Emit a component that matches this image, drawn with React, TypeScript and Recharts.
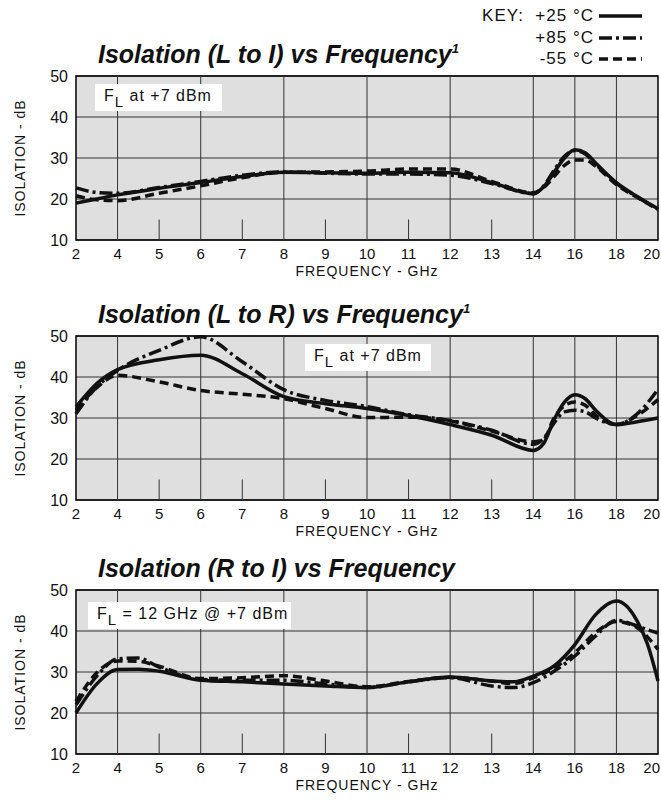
import { LineChart, Line, XAxis, YAxis, CartesianGrid, ReferenceLine, ReferenceArea } from 'recharts';

// x axis is not linear: 2-4 and 14-20 GHz are squeezed, each label gets one slot
const TICK_LABELS = ['2', '4', '5', '6', '7', '8', '9', '10', '11', '12', '13', '14', '16', '18', '20'];
const MAJOR_GRID = [4, 6, 8, 10, 12, 14, 16, 18];
const MINOR_MARKS = [5, 7, 9, 11, 13];
const Y_TICKS = [10, 20, 30, 40, 50];

// Isolation (L to I)
const LI_FREQ = [2, 3, 4, 5, 6, 7, 8, 9, 10, 11, 12, 13, 14, 14.5, 15, 15.5, 16, 16.5, 17, 18, 19, 20];
const LI_P25 = [19, 20, 21, 22.6, 24, 25.5, 26.5, 26.4, 26.3, 26.5, 26.4, 24, 21.3, 23, 26.5, 30, 32, 31.3, 28.8, 24, 20.6, 17.6];
const LI_P85 = [22.7, 21.6, 21.4, 22.8, 24.3, 25.8, 26.6, 26.3, 26.1, 26.1, 25.8, 23.8, 21.3, 23.2, 27, 30.4, 31.8, 31, 28.5, 23.8, 20.5, 17.5];
const LI_M55 = [20.8, 19.8, 19.6, 21.4, 23.2, 25.2, 26.5, 26.6, 26.8, 27.3, 27.3, 24.3, 21.5, 22.8, 25.5, 28.2, 29.5, 29.5, 28, 23.5, 20.4, 17.5];

// Isolation (L to R)
const LR_FREQ = [2, 3, 4, 5, 6, 7, 8, 9, 10, 11, 12, 13, 14, 14.5, 15, 15.5, 16, 16.5, 17, 18, 19, 20];
const LR_P25 = [32.7, 38.4, 41.8, 44.2, 45.3, 40.8, 35.2, 33.5, 32.3, 30.6, 28.4, 25.8, 22.1, 23.8, 29.6, 33.9, 35.7, 34.7, 31.9, 28.4, 29.1, 30];
const LR_P85 = [31, 37.6, 41.6, 46.5, 49.8, 43.7, 36.9, 34.3, 32.8, 30.8, 29.4, 27, 23.6, 25, 28.8, 31.5, 31.9, 31.5, 30, 28.4, 31, 37];
const LR_M55 = [31.9, 37.4, 40.4, 38.8, 36.7, 35.8, 34.7, 32.3, 30.1, 30.2, 29.3, 26.8, 24.2, 24.8, 30, 33, 33.9, 33.1, 30.7, 28.4, 30.6, 34.5];

// Isolation (R to I)
const RI_FREQ = [2, 3, 4, 4.5, 5, 6, 7, 8, 9, 10, 11, 12, 13, 13.5, 14, 15, 16, 17, 18, 19, 19.5, 20];
const RI_P25 = [20, 27.1, 30.6, 30.7, 30.2, 28, 27.6, 27.1, 26.6, 26.2, 27.6, 28.8, 27.8, 27.6, 29, 31.5, 36.7, 44, 47.3, 42.4, 36.7, 27.8];
const RI_P85 = [22, 29, 33.2, 33.4, 31.2, 28.2, 28, 28, 27.1, 26.2, 27.6, 28.6, 26.6, 26.2, 27.4, 30.2, 33.9, 38.8, 42.6, 41.2, 40.3, 39.5];
const RI_M55 = [22.8, 29.8, 32.7, 32.6, 31.4, 28.4, 28.6, 29.1, 27.8, 26.4, 27.7, 28.7, 27.8, 27.2, 28.6, 31, 34.7, 39.6, 42.3, 40.8, 38.5, 35.5];

const FONT = '"Liberation Sans", Arial, Helvetica, sans-serif';
const INK = '#111';

const DASH_85 = '13 4 3 4';
const DASH_55 = '9 5';
const LINE_W = 3.5;

// GHz -> slot on the category-like axis
function toSlot(f: number) {
  if (f <= 4) return (f - 2) / 2;
  if (f <= 14) return f - 3;
  return 11 + (f - 14) / 2;
}

function buildRows(freqs: number[], a: number[], b: number[], c: number[]) {
  return freqs.map((f, i) => ({ x: toSlot(f), p25: a[i], p85: b[i], m55: c[i] }));
}

const PLOT_H = 164;
const TOP_M = 10;
const X_AXIS_H = 40;

interface PanelProps {
  top: number;
  title: string;
  sup?: string;
  note: React.ReactNode;
  noteBox: { left: number; top: number; width: number; height: number };
  rows: { x: number; p25: number; p85: number; m55: number }[];
}

function YLabel(props: any) {
  const vb = props.viewBox;
  const cy = vb.y + vb.height / 2;
  return (
    <text x={20} y={cy} transform={`rotate(-90 20 ${cy})`} textAnchor="middle" dominantBaseline="central"
      fill={INK} fontSize={14} fontFamily={FONT} letterSpacing={1}>
      ISOLATION - dB
    </text>
  );
}

function XLabel(props: any) {
  const vb = props.viewBox;
  return (
    <text x={vb.x + vb.width / 2} y={vb.y + 31} textAnchor="middle" dominantBaseline="central"
      fill={INK} fontSize={14} fontFamily={FONT} letterSpacing={1}>
      FREQUENCY - GHz
    </text>
  );
}

// last label sits on the right border, keep it inside the picture
function XTick(props: any) {
  const { x, y, payload } = props;
  const last = payload.value === TICK_LABELS.length - 1;
  return (
    <text x={last ? 660 : x} y={y + 5} textAnchor={last ? 'end' : 'middle'} dominantBaseline="central"
      fill={INK} fontSize={15} fontFamily={FONT}>
      {TICK_LABELS[payload.value]}
    </text>
  );
}

function Panel({ top, title, sup, note, noteBox, rows }: PanelProps) {
  return (
    <>
      <div style={{ position: 'absolute', left: 98, top: top - 36, height: 28, lineHeight: '28px', fontFamily: FONT,
        fontWeight: 700, fontStyle: 'italic', fontSize: 25, color: INK, whiteSpace: 'nowrap' }}>
        {title}
        {sup && <sup style={{ fontSize: 13, verticalAlign: 'top', lineHeight: '18px' }}>{sup}</sup>}
      </div>
      <div style={{ position: 'absolute', left: 0, top: top - TOP_M }}>
        <LineChart width={661} height={TOP_M + PLOT_H + X_AXIS_H} data={rows}
          margin={{ top: TOP_M, right: 3, bottom: 0, left: 0 }}>
          <CartesianGrid vertical={false} fill="#dfdfdf" stroke="#333" strokeWidth={1} />
          <XAxis type="number" dataKey="x" domain={[0, 14]} ticks={TICK_LABELS.map((_, i) => i)} interval={0}
            axisLine={false} tickLine={false} height={X_AXIS_H} tick={<XTick />} label={<XLabel />} />
          <YAxis type="number" domain={[10, 50]} ticks={Y_TICKS} interval={0} width={76} axisLine={false}
            tickLine={false} tick={{ fill: INK, fontSize: 16, fontFamily: FONT }} label={<YLabel />} />
          {MAJOR_GRID.map((f) => (
            <ReferenceLine key={`g${f}`} x={toSlot(f)} stroke="#333" strokeWidth={1} />
          ))}
          {MINOR_MARKS.map((f) => (
            <ReferenceLine key={`m${f}`} segment={[{ x: toSlot(f), y: 10 }, { x: toSlot(f), y: 15 }]} stroke="#333" strokeWidth={1} />
          ))}
          <Line type="monotone" dataKey="m55" stroke={INK} strokeWidth={LINE_W} strokeDasharray={DASH_55} dot={false} isAnimationActive={false} />
          <Line type="monotone" dataKey="p85" stroke={INK} strokeWidth={LINE_W} strokeDasharray={DASH_85} dot={false} isAnimationActive={false} />
          <Line type="monotone" dataKey="p25" stroke={INK} strokeWidth={LINE_W} dot={false} isAnimationActive={false} />
          <ReferenceArea x1={0} x2={14} y1={10} y2={50} fill="none" fillOpacity={0} stroke="#000" strokeWidth={1.5} />
        </LineChart>
      </div>
      <div style={{ position: 'absolute', left: noteBox.left, top: noteBox.top, width: noteBox.width, height: noteBox.height,
        background: '#fff', fontFamily: FONT, fontSize: 16, color: INK, lineHeight: `${noteBox.height - 4}px`,
        paddingLeft: 9, boxSizing: 'border-box', whiteSpace: 'nowrap', letterSpacing: 1 }}>
        {note}
      </div>
    </>
  );
}

const FL = (
  <>
    F<sub style={{ fontSize: 15, verticalAlign: '-6px', lineHeight: 0 }}>L</sub>
  </>
);

function KeyRow({ label, dash, y }: { label: string; dash?: string; y: number }) {
  return (
    <div style={{ position: 'absolute', left: 420, top: y - 10, width: 222, height: 20, display: 'flex', alignItems: 'center',
      justifyContent: 'flex-end', fontFamily: FONT, fontSize: 17, color: INK, letterSpacing: 1, whiteSpace: 'pre' }}>
      <span style={{ marginRight: 5 }}>{label}</span>
      <svg width={43} height={8}>
        <line x1={0} y1={4} x2={43} y2={4} stroke={INK} strokeWidth={3.5} strokeDasharray={dash} />
      </svg>
    </div>
  );
}

export default function App() {
  return (
    <div style={{ position: 'absolute', left: 0, top: 0, width: 661, height: 800, background: '#fff', overflow: 'hidden' }}>
      <KeyRow label="KEY:  +25 °C" y={16} />
      <KeyRow label="+85 °C" dash={DASH_85} y={38} />
      <KeyRow label="-55 °C" dash={DASH_55} y={59} />
      <Panel top={76} title="Isolation (L to I) vs Frequency" sup="1"
        note={<>{FL} at +7 dBm</>} noteBox={{ left: 95, top: 84, width: 127, height: 27 }}
        rows={buildRows(LI_FREQ, LI_P25, LI_P85, LI_M55)} />
      <Panel top={336} title="Isolation (L to R) vs Frequency" sup="1"
        note={<>{FL} at +7 dBm</>} noteBox={{ left: 305, top: 344, width: 126, height: 27 }}
        rows={buildRows(LR_FREQ, LR_P25, LR_P85, LR_M55)} />
      <Panel top={590} title="Isolation (R to I) vs Frequency"
        note={<>{FL} = 12 GHz @ +7 dBm</>} noteBox={{ left: 88, top: 602, width: 203, height: 27 }}
        rows={buildRows(RI_FREQ, RI_P25, RI_P85, RI_M55)} />
    </div>
  );
}
